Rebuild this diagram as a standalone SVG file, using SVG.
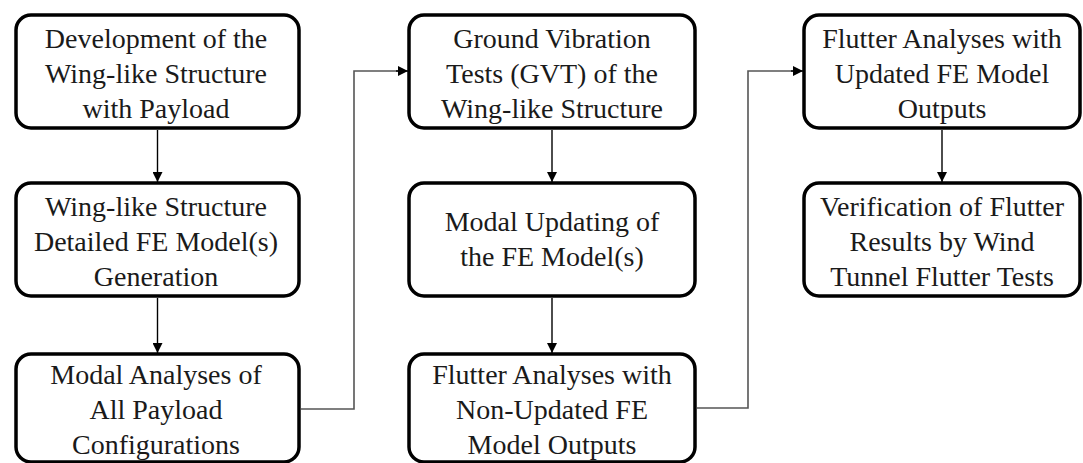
<svg xmlns="http://www.w3.org/2000/svg" width="1083" height="463" viewBox="0 0 1083 463">
<defs>
<style>
.box{fill:#fff;stroke:#000;stroke-width:3.5}
.t{font-family:'Liberation Serif','Times New Roman',serif;font-size:28px;fill:#1a1a1a;text-anchor:middle}
.c{fill:none;stroke:#000;stroke-width:1.4}
.g{fill:none;stroke:#555;stroke-width:1.6}
</style>
<marker id="ah" viewBox="0 0 10 10" refX="10" refY="5" markerWidth="10" markerHeight="10" markerUnits="userSpaceOnUse" orient="auto">
<path d="M0,0 L10,5 L0,10 Z" fill="#000"/>
</marker>
</defs>
<rect width="1083" height="463" fill="#fff"/>
<g id="connectors">
<line class="c" x1="157.5" y1="130" x2="157.5" y2="182" marker-end="url(#ah)"/>
<line class="c" x1="157.5" y1="298" x2="157.5" y2="353" marker-end="url(#ah)"/>
<line class="c" x1="552" y1="130" x2="552" y2="182" marker-end="url(#ah)"/>
<line class="c" x1="552" y1="298" x2="552" y2="353" marker-end="url(#ah)"/>
<line class="c" x1="942" y1="130" x2="942" y2="182" marker-end="url(#ah)"/>
<polyline class="g" points="301,409 354,409 354,71 398,71"/>
<line class="c" x1="396" y1="71" x2="408" y2="71" marker-end="url(#ah)"/>
<polyline class="g" points="697,408 748,408 748,71 793,71"/>
<line class="c" x1="791" y1="71" x2="803" y2="71" marker-end="url(#ah)"/>
</g>
<g id="n1">
<rect class="box" x="16" y="15" width="283" height="113" rx="15"/>
<text class="t" x="156" y="48">Development of the</text>
<text class="t" x="156" y="83">Wing-like Structure</text>
<text class="t" x="156" y="118">with Payload</text>
</g>
<g id="n2">
<rect class="box" x="16" y="183" width="283" height="113" rx="15"/>
<text class="t" x="156" y="216">Wing-like Structure</text>
<text class="t" x="156" y="251">Detailed FE Model(s)</text>
<text class="t" x="156" y="286">Generation</text>
</g>
<g id="n3">
<rect class="box" x="16" y="354" width="283" height="108" rx="15"/>
<text class="t" x="156" y="384">Modal Analyses of</text>
<text class="t" x="156" y="419">All Payload</text>
<text class="t" x="156" y="454">Configurations</text>
</g>
<g id="n4">
<rect class="box" x="409" y="15" width="286" height="113" rx="15"/>
<text class="t" x="552" y="48">Ground Vibration</text>
<text class="t" x="552" y="83">Tests (GVT) of the</text>
<text class="t" x="552" y="118">Wing-like Structure</text>
</g>
<g id="n5">
<rect class="box" x="409" y="183" width="286" height="113" rx="15"/>
<text class="t" x="552" y="231">Modal Updating of</text>
<text class="t" x="552" y="266">the FE Model(s)</text>
</g>
<g id="n6">
<rect class="box" x="409" y="354" width="286" height="108" rx="15"/>
<text class="t" x="552" y="384">Flutter Analyses with</text>
<text class="t" x="552" y="419">Non-Updated FE</text>
<text class="t" x="552" y="454">Model Outputs</text>
</g>
<g id="n7">
<rect class="box" x="804" y="15" width="276" height="113" rx="15"/>
<text class="t" x="942" y="48">Flutter Analyses with</text>
<text class="t" x="942" y="83">Updated FE Model</text>
<text class="t" x="942" y="118">Outputs</text>
</g>
<g id="n8">
<rect class="box" x="804" y="183" width="276" height="113" rx="15"/>
<text class="t" x="942" y="216">Verification of Flutter</text>
<text class="t" x="942" y="251">Results by Wind</text>
<text class="t" x="942" y="286">Tunnel Flutter Tests</text>
</g>
</svg>
